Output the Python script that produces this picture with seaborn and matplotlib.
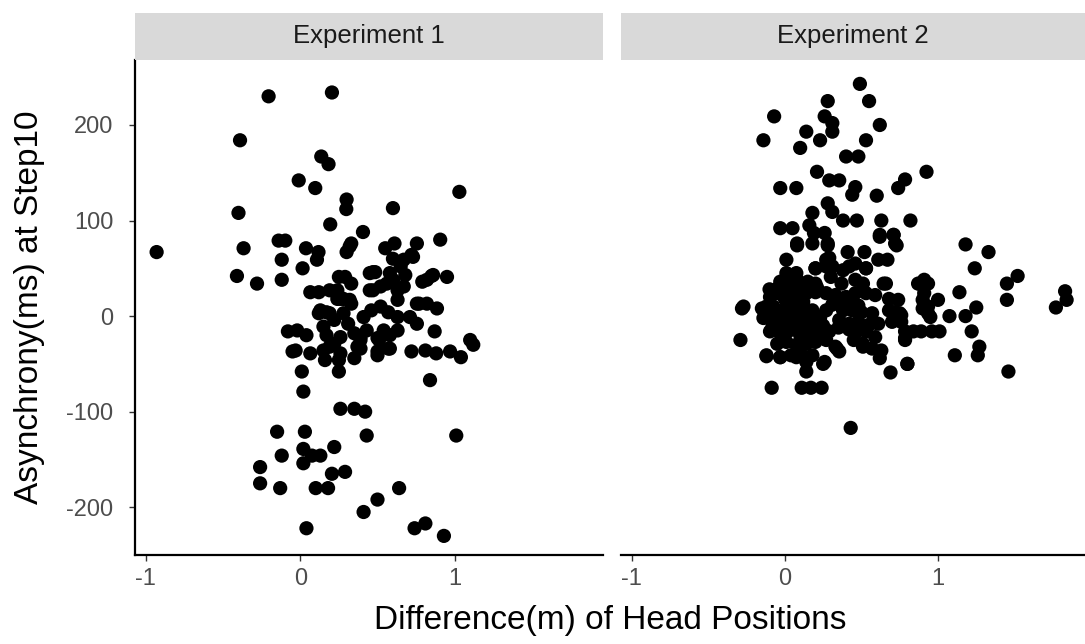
import numpy as np
import pandas as pd
import matplotlib
matplotlib.use("Agg")
import matplotlib.pyplot as plt
import seaborn as sns

# ---------------- data ----------------
exp1_x = [-0.93, -0.205, 0.205, -0.39, 0.136, 0.183, -0.01, 0.097, 0.30, 0.298,
          -0.40, 0.194, 0.406, -0.367, -0.14, -0.097, 0.037, 0.118, 0.108, 0.30,
          0.32, 0.33, -0.12, 0.015, -0.41, -0.28, -0.12, 0.25, 0.29, 0.33,
          0.065, 0.12, 0.19, 0.24, 0.24, 0.28, 0.33, 0.45, 0.45,
          0.55, 0.61, 0.755, 0.906, 0.60, 0.67, 0.73, 0.485, 0.58, 0.65, 0.68,
          0.82, 0.86, 0.95, 0.23, 0.26, 0.32, 0.47, 0.52, 0.56, 0.60, 0.63, 0.67,
          0.13, 0.17, 0.22, 0.28, 0.41, 0.46, 0.52, 0.57, 0.63, 0.63,
          0.755, 0.82, 0.885, 0.71, 0.755, 0.87, 1.10, -0.02, 0.04,
          0.15, 0.17, 0.22, 0.26, 0.31, 0.35, 0.39, 0.43, 0.50, 0.54, 0.58, 0.63,
          0.19, 0.26, 0.37, 0.50, 0.58, 0.72, 0.81, 0.88, 0.97, 1.04,
          -0.03, 0.065, 0.15, -0.08, -0.05, 0.01, 0.02, 0.12, 0.19,
          0.16, 0.25, 0.25, 0.35, 0.39, 0.39, 0.26, 0.35, 0.42, 0.43,
          -0.15, 0.03, -0.12, 0.02, 0.076, 0.13, 0.22, 0.02, -0.26, -0.26, -0.13,
          0.10, 0.18, 0.205, 0.29, 0.41, 0.04, 1.01, 0.64, 0.50, 0.74, 0.81, 0.93,
          0.84, 1.12, 1.03, 0.60, 0.77, 0.72, 0.79, 0.85, 0.47, 0.50, 0.51, 0.57]
exp1_y = [67, 230, 234, 184, 167, 159, 142, 134, 122, 112,
          108, 96, 88, 71, 79, 79, 71, 67, 59, 67,
          73, 76, 59, 50, 42, 34, 38, 41, 41, 34,
          25, 25, 27, 27, 18, 18, 13, 45, 27,
          71, 76, 76, 80, 60, 59, 62, 46, 45, 52, 43,
          38, 43, 41, 25, 18, 17, 27, 31, 34, 38, 27, 31,
          6, 4, -4, 3, -1, 6, 10, 4, 17, -1,
          13, 13, 8, -1, -8, -16, -25, -15, -20,
          -11, -20, -29, -22, -8, -18, -22, -15, -23, -15, -20, -15,
          -32, -39, -32, -37, -34, -37, -36, -39, -37, -43,
          -36, -39, -36, -16, -37, -58, -79, 3, 3,
          -46, -46, -58, -44, -25, -34, -97, -97, -100, -125,
          -121, -121, -146, -139, -146, -146, -137, -154, -158, -175, -180,
          -180, -180, -165, -163, -205, -222, -125, -180, -192, -222, -217, -230,
          -67, -30, 130, 113, 13, 64, 36, 42, 46, -41, -25, -34]

exp2_x = [0.49, 0.28, 0.55, -0.07, 0.26, 0.31, 0.31, 0.62, -0.14, 0.14, 0.23,
          0.10, 0.53, 0.40, 0.48, 0.21, 0.29, 0.355, -0.03, 0.075, 0.46, 0.44,
          0.60, 0.785, 0.74, 0.925, 0.18, 0.28, 0.31, 0.38, 0.47, 0.63, 0.82,
          -0.03, 0.05, 0.16, 0.19, 0.26, 0.28, 0.08, 0.62, 0.71, 0.72,
          0.01, 0.41, 0.52, 0.27, 0.31, 0.20, 0.38, 0.46, 0.53, 0.61, 0.67,
          0.66, 0.87, 0.91, 0.01, 0.075, -0.02, -0.27, -0.12,
          1.18, 1.33, 1.24, 1.45, 1.52, 1.45, 1.83, 1.84, 1.77,
          0.88, 0.935, 0.91, 0.90, 1.00, 0.935, 0.90, 0.95, 1.14, 1.25, 1.075, 1.18,
          0.74, 0.76, 0.785, 0.84, 0.89, 0.96, 1.01, 0.785, 1.22, 1.27, 1.26, 1.11,
          0.80, 1.46,
          -0.28, -0.29, -0.086, 0.11, 0.17, 0.24, 0.14, 0.25, 0.43, 0.80, 0.69,
          0.62, 0.57, 0.51, 0.45, 0.34, -0.12, -0.03, 0.075, 0.645,
          0.72, 0.76, 0.785,
          0.08, 0.18, 0.28, 0.29, 0.42, 0.53, 0.01, 0.075, 0.20, 0.27,
          -0.03, 0.02, 0.15, 0.20, 0.30, 0.37, 0.46, 0.51,
          -0.097, -0.05, 0.0, 0.075, 0.14, 0.20, 0.27, 0.33, 0.40, 0.46, 0.53,
          0.59, 0.68,
          -0.13, -0.075, -0.01, 0.05, 0.12, 0.18, 0.27, 0.38, 0.44, 0.50, 0.57,
          0.72,
          -0.14, -0.075, -0.01, 0.05, 0.11, 0.17, 0.23, 0.355, 0.42, 0.48, 0.55,
          0.61, 0.70,
          -0.097, -0.03, 0.03, 0.10, 0.16, 0.23, 0.29, 0.46, 0.53, 0.59,
          -0.05, 0.01, 0.075, 0.14, 0.20, 0.27, 0.33, 0.51, 0.63,
          -0.12, -0.03, 0.04, 0.11, 0.18, 0.355, 0.14, 0.26, -0.15,
          0.62, 0.71, 0.73, 0.68, 0.75, 0.935,
          0.02, 0.06, 0.09, 0.12, -0.06, -0.02, 0.04, 0.10, 0.16, 0.22,
          -0.08, 0.0, 0.07, 0.13, 0.19, 0.25, -0.10, -0.04, 0.03, 0.09, 0.15,
          0.21, 0.31, 0.36, 0.41, 0.48, 0.35, 0.42]
exp2_y = [243, 225, 225, 209, 209, 202, 193, 200, 184, 193, 184,
          176, 184, 167, 167, 151, 142, 142, 134, 134, 135, 127,
          126, 143, 134, 151, 108, 118, 109, 100, 100, 100, 100,
          92, 92, 95, 87, 87, 76, 76, 85, 85, 76,
          59, 67, 67, 59, 52, 50, 48, 55, 50, 59, 59,
          34, 34, 38, 40, 40, 34, 10, 10,
          75, 67, 50, 34, 42, 17, 26, 17, 9,
          34, 34, 24, 17, 17, 10, 8, -1, 25, 9, 0, 0,
          17, 1, -16, -16, -16, -16, -16, -25, -16, -32, -41, -41,
          -50, -58,
          8, -25, -75, -75, -75, -75, -58, -50, -117, -50, -59,
          -44, -34, -32, -25, -34, -42, -43, -43, 34,
          3, -6, -23,
          74, 76, 74, 61, 52, 50, 45, 45, 50, 52,
          36, 34, 36, 34, 41, 34, 38, 34,
          20, 24, 18, 22, 24, 25, 24, 22, 20, 24, 24,
          22, 18,
          8, 10, 6, 8, 10, 6, 6, 6, 6, 4, 3,
          4,
          -2, -6, -4, -2, -6, -4, -2, -4, -8, -6, -9,
          -8, -6,
          -16, -18, -15, -20, -16, -18, -16, -18, -16, -22,
          -29, -27, -30, -29, -27, -25, -32, -29, -36,
          -41, -43, -41, -41, -41, -37, -48, -48, 8,
          83, 85, 74, 6, 3, 3,
          14, 16, 12, 15, 2, 0, -1, 1, 0, -1,
          -10, -12, -11, -9, -12, -10, 28, 30, 29, 31, 28,
          30, 12, 14, 15, 11, -12, -14]

panel_titles = ["Experiment 1", "Experiment 2"]
x_ticks = [-1, 0, 1]
y_ticks = [-200, -100, 0, 100, 200]

df = pd.concat([
    pd.DataFrame({"x": exp1_x, "y": exp1_y, "exp": panel_titles[0]}),
    pd.DataFrame({"x": exp2_x, "y": exp2_y, "exp": panel_titles[1]}),
], ignore_index=True)

# ---------------- figure ----------------
sns.set_theme(style="white")
plt.rcParams["font.family"] = ["Liberation Sans", "DejaVu Sans"]
plt.rcParams["axes.unicode_minus"] = False

W, H = 1085, 644
fig = plt.figure(figsize=(W / 100, H / 100), dpi=100)
fig.patch.set_facecolor("white")

panels = [(135, 603), (621, 1085)]
top_px, bot_px = 60, 555
strip_top = 13

for i, (l, r) in enumerate(panels):
    ax = fig.add_axes([l / W, 1 - bot_px / H, (r - l) / W, (bot_px - top_px) / H])
    sub = df[df["exp"] == panel_titles[i]]
    sns.scatterplot(data=sub, x="x", y="y", ax=ax, color="black", s=105,
                    edgecolor="none", linewidth=0, legend=False)
    ax.set_xlim(-1.07, 1.96)
    ax.set_ylim(-250, 268)
    ax.set_xticks(x_ticks)
    ax.set_xticklabels([str(t) for t in x_ticks])
    ax.set_xlabel("")
    ax.set_ylabel("")
    for side in ["top", "right"]:
        ax.spines[side].set_visible(False)
    ax.spines["bottom"].set_color("black")
    ax.spines["bottom"].set_linewidth(1.6)
    ax.tick_params(axis="x", length=4.5, width=1.0, color="#333333",
                   labelsize=17, labelcolor="#4D4D4D", pad=5, bottom=True)
    if i == 0:
        ax.spines["left"].set_color("black")
        ax.spines["left"].set_linewidth(1.6)
        ax.set_yticks(y_ticks)
        ax.set_yticklabels([str(t) for t in y_ticks])
        ax.tick_params(axis="y", length=4.5, width=1.0, color="#333333",
                       labelsize=17, labelcolor="#4D4D4D", pad=11, left=True)
    else:
        ax.spines["left"].set_visible(False)
        ax.set_yticks([])
    # strip
    sax = fig.add_axes([l / W, 1 - top_px / H, (r - l) / W, (top_px - strip_top) / H])
    sax.set_facecolor("#D9D9D9")
    sax.set_xticks([])
    sax.set_yticks([])
    for s in sax.spines.values():
        s.set_visible(False)
    sax.text(0.5, 0.5, panel_titles[i], ha="center", va="center",
             fontsize=18.5, color="#1A1A1A", transform=sax.transAxes)

fig.text(610 / W, 1 - 620 / H, "Difference(m) of Head Positions", ha="center",
         va="center", fontsize=24, color="black")
fig.text(30 / W, 1 - 307 / H, "Asynchrony(ms) at Step10", ha="center",
         va="center", rotation=90, fontsize=24, color="black")

fig.savefig("out.png", dpi=100, facecolor="white")
